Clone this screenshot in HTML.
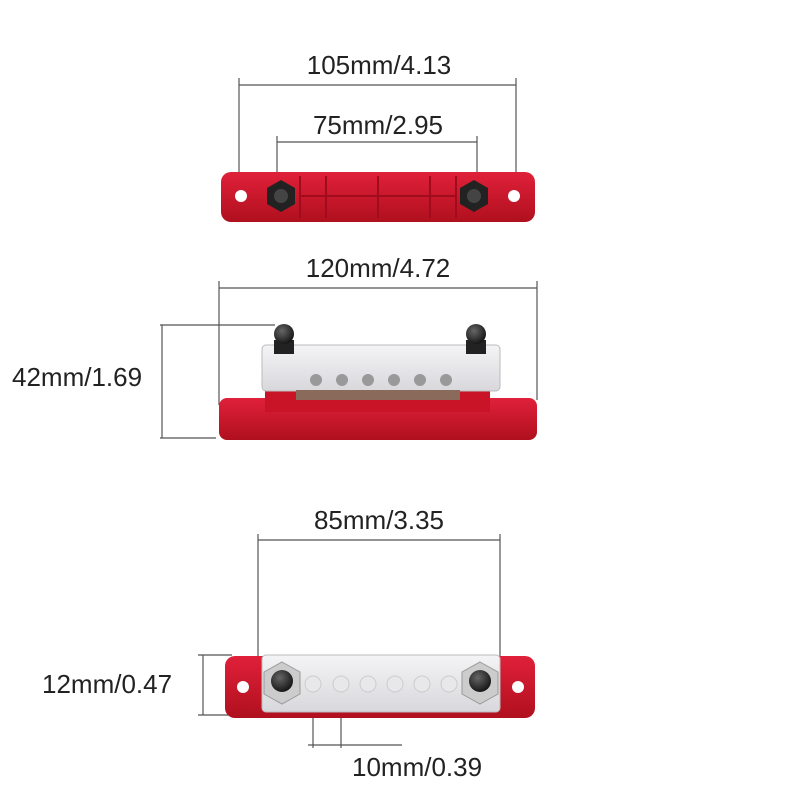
<!DOCTYPE html>
<html><head><meta charset="utf-8"><style>
html,body{margin:0;padding:0;background:#fff;}
svg{display:block}
text{font-family:"Liberation Sans",sans-serif;font-size:26px;fill:#222;}
</style></head><body>
<svg width="800" height="800" viewBox="0 0 800 800" xmlns="http://www.w3.org/2000/svg">
<defs>
<linearGradient id="red" x1="0" y1="0" x2="0" y2="1"><stop offset="0" stop-color="#e0203a"/><stop offset="1" stop-color="#b0101e"/></linearGradient>
<linearGradient id="clear" x1="0" y1="0" x2="0" y2="1"><stop offset="0" stop-color="#f4f4f6"/><stop offset="1" stop-color="#d8d8dc"/></linearGradient>
<radialGradient id="blk" cx="0.4" cy="0.35" r="0.7"><stop offset="0" stop-color="#666"/><stop offset="1" stop-color="#111"/></radialGradient>
</defs>
<g stroke="#555" stroke-width="1.2" fill="none">
<line x1="239" y1="85" x2="516" y2="85"/><line x1="239" y1="78" x2="239" y2="192"/><line x1="516" y1="78" x2="516" y2="192"/>
<line x1="277" y1="142" x2="477" y2="142"/><line x1="277" y1="136" x2="277" y2="182"/><line x1="477" y1="136" x2="477" y2="182"/>
<line x1="219" y1="288" x2="537" y2="288"/><line x1="219" y1="281" x2="219" y2="405"/><line x1="537" y1="281" x2="537" y2="400"/>
<line x1="160" y1="325" x2="275" y2="325"/><line x1="160" y1="438" x2="216" y2="438"/><line x1="162" y1="325" x2="162" y2="438"/>
<line x1="258" y1="540" x2="500" y2="540"/><line x1="258" y1="534" x2="258" y2="662"/><line x1="500" y1="534" x2="500" y2="662"/>
<line x1="198" y1="655" x2="232" y2="655"/><line x1="198" y1="715" x2="232" y2="715"/><line x1="203" y1="655" x2="203" y2="715"/>
<line x1="313" y1="690" x2="313" y2="748"/><line x1="341" y1="690" x2="341" y2="748"/><line x1="308" y1="745" x2="402" y2="745"/>
</g>
<text x="379" y="74" text-anchor="middle">105mm/4.13</text>
<text x="378" y="134" text-anchor="middle">75mm/2.95</text>
<text x="378" y="277" text-anchor="middle">120mm/4.72</text>
<text x="12" y="386">42mm/1.69</text>
<text x="379" y="529" text-anchor="middle">85mm/3.35</text>
<text x="42" y="693">12mm/0.47</text>
<text x="352" y="776">10mm/0.39</text>

<rect x="221" y="172" width="314" height="50" rx="10" fill="url(#red)"/>
<g stroke="#a00c1c" stroke-width="2" fill="none">
<line x1="300" y1="176" x2="300" y2="218"/><line x1="326" y1="176" x2="326" y2="218"/><line x1="378" y1="176" x2="378" y2="218"/><line x1="430" y1="176" x2="430" y2="218"/><line x1="456" y1="176" x2="456" y2="218"/>
<line x1="300" y1="196" x2="456" y2="196"/>
</g>
<circle cx="241" cy="196" r="6" fill="#fff"/><circle cx="514" cy="196" r="6" fill="#fff"/>
<polygon points="281,180 295,188 295,204 281,212 267,204 267,188" fill="#222"/>
<polygon points="474,180 488,188 488,204 474,212 460,204 460,188" fill="#222"/>
<circle cx="281" cy="196" r="7" fill="#444"/><circle cx="474" cy="196" r="7" fill="#444"/>

<rect x="219" y="398" width="318" height="42" rx="8" fill="url(#red)"/>
<rect x="265" y="388" width="225" height="24" fill="#c81426"/>
<rect x="262" y="345" width="238" height="46" rx="4" fill="url(#clear)" stroke="#bbb"/>
<g fill="#999">
<circle cx="316" cy="380" r="6"/><circle cx="342" cy="380" r="6"/><circle cx="368" cy="380" r="6"/><circle cx="394" cy="380" r="6"/><circle cx="420" cy="380" r="6"/><circle cx="446" cy="380" r="6"/>
</g>
<rect x="296" y="390" width="164" height="10" fill="#8a6a5a"/>
<rect x="274" y="340" width="20" height="14" fill="#222"/><circle cx="284" cy="334" r="10" fill="url(#blk)"/>
<rect x="466" y="340" width="20" height="14" fill="#222"/><circle cx="476" cy="334" r="10" fill="url(#blk)"/>

<rect x="225" y="656" width="310" height="62" rx="10" fill="url(#red)"/>
<circle cx="243" cy="687" r="6" fill="#fff"/><circle cx="518" cy="687" r="6" fill="#fff"/>
<rect x="262" y="655" width="238" height="57" rx="4" fill="url(#clear)" stroke="#bbb"/>
<g fill="#e8e8ea" stroke="#ccc">
<circle cx="313" cy="684" r="8"/><circle cx="341" cy="684" r="8"/><circle cx="368" cy="684" r="8"/><circle cx="395" cy="684" r="8"/><circle cx="422" cy="684" r="8"/><circle cx="449" cy="684" r="8"/>
</g>
<polygon points="282,662 300,672 300,694 282,704 264,694 264,672" fill="#ccc" stroke="#999"/>
<polygon points="480,662 498,672 498,694 480,704 462,694 462,672" fill="#ccc" stroke="#999"/>
<circle cx="282" cy="681" r="11" fill="url(#blk)"/><circle cx="480" cy="681" r="11" fill="url(#blk)"/>
</svg>
</body></html>
